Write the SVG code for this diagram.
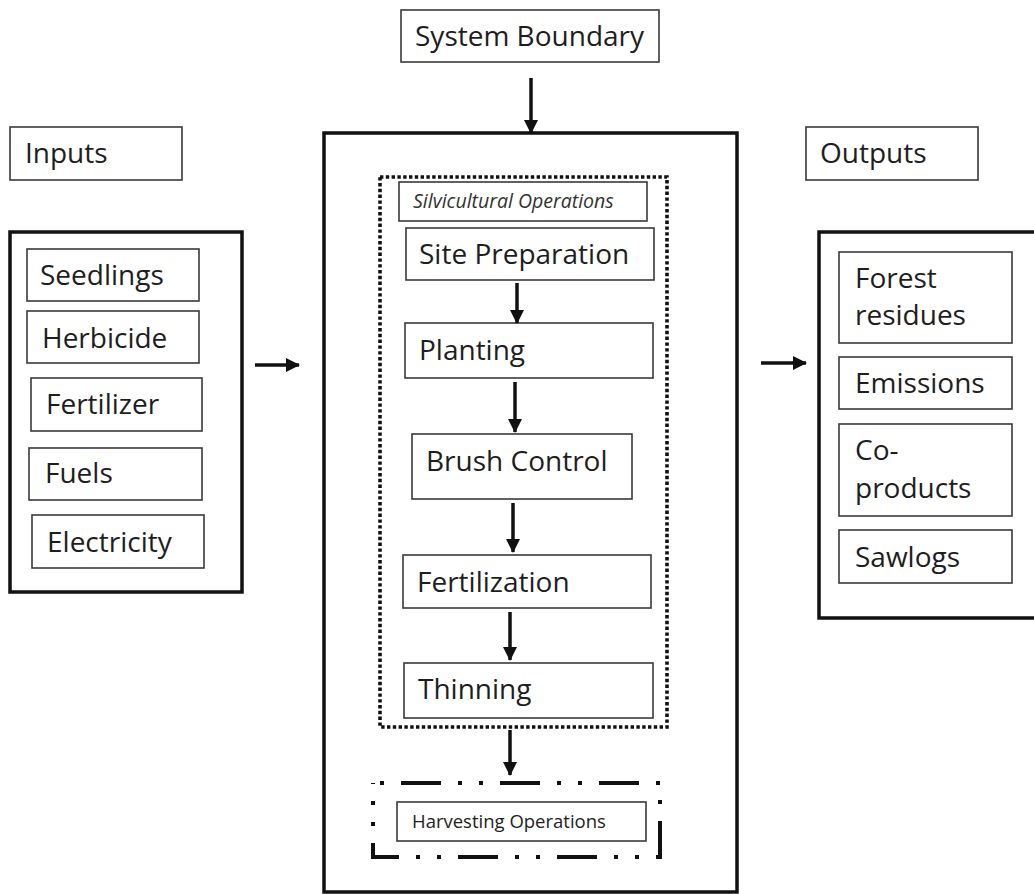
<svg xmlns="http://www.w3.org/2000/svg" width="1034" height="894" viewBox="0 0 1034 894">
<style>
.bg{fill:#fff}
.box{fill:#fff;stroke:#3a3a3a;stroke-width:1.6}
.thick{fill:none;stroke:#111;stroke-width:3.5}
.dotted{fill:none;stroke:#111;stroke-width:3.6;stroke-dasharray:3.4 2.4}
.dashdot{fill:none;stroke:#111;stroke-width:4;stroke-dasharray:40 17 4 17 4 17;stroke-dashoffset:71}
.t{font-family:"Open Sans","Noto Sans","DejaVu Sans",sans-serif;font-size:28px;fill:#1e1e1e}
.ts{font-family:"Open Sans","Noto Sans","DejaVu Sans",sans-serif;font-size:18.5px;fill:#222}
.ti{font-family:"Open Sans","Noto Sans","DejaVu Sans",sans-serif;font-size:19.5px;font-style:italic;fill:#333}
.arr{stroke:#111;stroke-width:3.5;fill:none;marker-end:url(#ah)}
</style>
<defs>
<marker id="ah" markerUnits="userSpaceOnUse" markerWidth="14" markerHeight="14" refX="13" refY="7" orient="auto">
<path d="M0,0 L14,7 L0,14 z" fill="#111"/>
</marker>
</defs>
<rect class="bg" x="0" y="0" width="1034" height="894"/>

<g id="system-boundary-label">
<rect class="box" x="401" y="10" width="258" height="52"/>
<text class="t" x="415" y="46">System Boundary</text>
</g>

<g id="inputs-label">
<rect class="box" x="10" y="127" width="172" height="53"/>
<text class="t" x="25" y="163">Inputs</text>
</g>

<g id="outputs-label">
<rect class="box" x="806" y="127" width="172" height="53"/>
<text class="t" x="820" y="163">Outputs</text>
</g>

<g id="inputs">
<rect class="thick" x="10" y="232" width="232" height="360"/>
<g id="seedlings"><rect class="box" x="27" y="249" width="172" height="52"/><text class="t" x="40" y="285">Seedlings</text></g>
<g id="herbicide"><rect class="box" x="27" y="311" width="172" height="52"/><text class="t" x="42" y="348">Herbicide</text></g>
<g id="fertilizer"><rect class="box" x="31" y="378" width="171" height="53"/><text class="t" x="46" y="414">Fertilizer</text></g>
<g id="fuels"><rect class="box" x="29" y="448" width="173" height="52"/><text class="t" x="45" y="483">Fuels</text></g>
<g id="electricity"><rect class="box" x="32" y="515" width="172" height="53"/><text class="t" x="47" y="552">Electricity</text></g>
</g>

<g id="system">
<rect class="thick" x="324" y="133" width="413" height="759"/>
</g>

<g id="silvicultural">
<rect class="dotted" x="380" y="177" width="287" height="550"/>
<g id="silv-label"><rect class="box" x="399" y="182" width="248" height="39"/><text class="ti" x="413" y="208">Silvicultural Operations</text></g>
<g id="site-prep"><rect class="box" x="406" y="228" width="248" height="52"/><text class="t" x="419" y="264">Site Preparation</text></g>
<g id="planting"><rect class="box" x="405" y="323" width="248" height="55"/><text class="t" x="419" y="360">Planting</text></g>
<g id="brush"><rect class="box" x="412" y="434" width="220" height="65"/><text class="t" x="426" y="471">Brush Control</text></g>
<g id="fertilization"><rect class="box" x="403" y="555" width="248" height="53"/><text class="t" x="417" y="592">Fertilization</text></g>
<g id="thinning"><rect class="box" x="404" y="663" width="249" height="55"/><text class="t" x="418" y="699">Thinning</text></g>
</g>

<g id="harvesting">
<path class="dashdot" d="M373,783 H660 V857 H373 Z"/>
<g id="harv-label"><rect class="box" x="397" y="802" width="249" height="39"/><text class="ts" x="412" y="828">Harvesting Operations</text></g>
</g>

<g id="outputs">
<rect class="thick" x="819" y="232" width="222" height="386"/>
<g id="residues"><rect class="box" x="839" y="252" width="173" height="91"/><text class="t" x="855" y="288">Forest</text><text class="t" x="855" y="325">residues</text></g>
<g id="emissions"><rect class="box" x="839" y="357" width="173" height="52"/><text class="t" x="855" y="393">Emissions</text></g>
<g id="coproducts"><rect class="box" x="839" y="424" width="173" height="92"/><text class="t" x="855" y="460">Co-</text><text class="t" x="855" y="498">products</text></g>
<g id="sawlogs"><rect class="box" x="839" y="530" width="173" height="53"/><text class="t" x="855" y="567">Sawlogs</text></g>
</g>

<g id="connectors">
<line class="arr" x1="531" y1="78" x2="531" y2="133"/>
<line class="arr" x1="517" y1="283" x2="517" y2="323"/>
<line class="arr" x1="515" y1="382" x2="515" y2="432"/>
<line class="arr" x1="513" y1="503" x2="513" y2="552"/>
<line class="arr" x1="510" y1="612" x2="510" y2="660"/>
<line class="arr" x1="510" y1="730" x2="510" y2="775"/>
<line class="arr" x1="255" y1="365" x2="299" y2="365"/>
<line class="arr" x1="761" y1="363" x2="806" y2="363"/>
</g>
</svg>
